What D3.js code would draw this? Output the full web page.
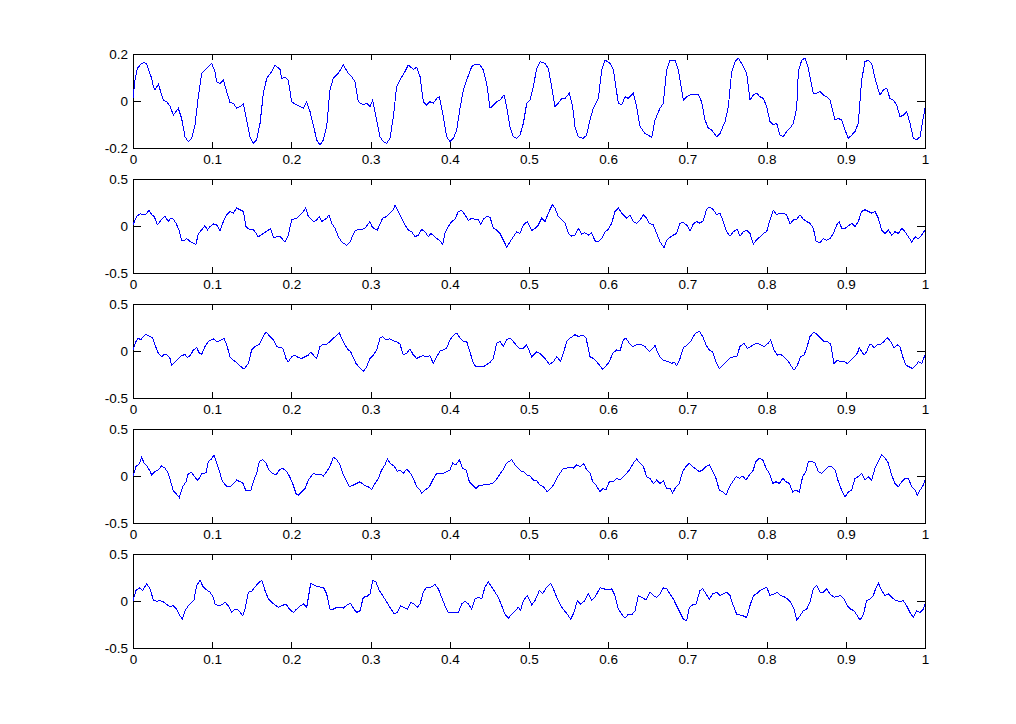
<!DOCTYPE html>
<html>
<head>
<meta charset="utf-8">
<script src="https://d3js.org/d3.v7.min.js"></script>
<style>
body { margin:0; background:#ffffff; }
svg text { font-family: "Liberation Sans", Arial, sans-serif; font-size:13.5px; fill:#000000; }
.frame { fill:none; stroke:#000000; stroke-width:1px; shape-rendering:crispEdges; }
.tick line { stroke:#000000; shape-rendering:crispEdges; }
.signal { fill:none; stroke:#0000ff; stroke-width:1px; shape-rendering:crispEdges; }
</style>
</head>
<body>
<svg id="fig" width="1016" height="724"></svg>
<script>
// signal 1 (top panel, y range +-0.2)
var t1 = [0,0.0025,0.0055,0.011,0.0143,0.0173,0.0206,0.0236,0.0257,0.0278,0.032,0.0349,0.0383,0.0425,0.0467,0.0509,0.0572,0.0614,0.0657,0.0699,0.0741,0.0783,0.0825,0.0867,0.093,0.0993,0.1035,0.1056,0.1098,0.1141,0.1183,0.1225,0.1267,0.1309,0.1351,0.1393,0.1435,0.1477,0.1519,0.1561,0.1604,0.1646,0.1688,0.1751,0.1793,0.1856,0.1877,0.1919,0.1961,0.2003,0.2066,0.2109,0.2151,0.2193,0.2235,0.2277,0.2319,0.2361,0.2403,0.2445,0.2487,0.2529,0.2593,0.2656,0.2719,0.2761,0.2803,0.2845,0.2908,0.295,0.2992,0.3026,0.3077,0.3119,0.3161,0.3203,0.3245,0.3287,0.3329,0.3371,0.3434,0.3476,0.354,0.3582,0.3624,0.3666,0.3708,0.375,0.3792,0.3834,0.3868,0.3918,0.396,0.4003,0.4045,0.4087,0.4129,0.4171,0.4213,0.4276,0.4318,0.4381,0.4423,0.4466,0.4508,0.455,0.4592,0.4634,0.4684,0.4718,0.476,0.4802,0.4844,0.4886,
  0.4929,0.4971,0.5013,0.5055,0.5097,0.5139,0.5202,0.5244,0.5286,0.5328,0.537,0.5413,0.5455,0.551,0.5551,0.5581,0.5623,0.5686,0.5728,0.577,0.5812,0.5876,0.5918,0.596,0.6023,0.6065,0.6128,0.617,0.6212,0.6254,0.6317,0.6359,0.6402,0.6465,0.6507,0.6549,0.6591,0.6654,0.6696,0.6738,0.678,0.6843,0.6886,0.6949,0.6991,0.7033,0.7075,0.7138,0.718,0.7222,0.7264,0.7306,0.737,0.7412,0.7475,0.7517,0.7559,0.7601,0.7643,0.7685,0.7749,0.7791,0.7833,0.7875,0.7917,0.7959,0.8001,0.8043,0.8085,0.8127,0.8169,0.8211,0.8253,0.8296,0.8338,0.838,0.8401,0.8443,0.8485,0.8527,0.859,0.8632,0.8674,0.8716,0.8758,0.88,0.8864,0.8906,0.8948,0.899,0.9032,0.9074,0.9116,0.9158,0.92,0.9242,0.9285,0.9327,0.9369,0.9411,0.9432,0.9474,0.9516,0.9558,0.96,0.9642,0.9684,0.9726,0.9769,0.9811,0.9853,0.9895,0.9937,0.9966,1];
var v1 = [0.011,0.089,0.139,0.160,0.163,0.157,0.125,0.096,0.061,0.047,0.072,0.040,0.004,-0.003,-0.021,-0.060,-0.031,-0.074,-0.152,-0.173,-0.159,-0.102,0.018,0.118,0.139,0.160,0.125,0.082,0.075,0.089,0.040,-0.007,-0.010,-0.031,-0.024,-0.013,-0.081,-0.152,-0.180,-0.166,-0.095,0.033,0.096,0.125,0.153,0.135,0.096,0.101,0.087,-0.003,-0.017,-0.024,-0.031,-0.003,-0.045,-0.102,-0.166,-0.187,-0.166,-0.109,0.047,0.096,0.118,0.153,0.118,0.104,0.082,-0.003,-0.017,-0.010,-0.024,0.004,-0.081,-0.152,-0.173,-0.180,-0.159,-0.067,0.061,0.089,0.125,0.153,0.135,0.143,0.104,-0.003,-0.017,-0.003,-0.010,0.011,0.018,-0.067,-0.152,-0.173,-0.159,-0.123,-0.031,0.047,0.089,0.146,0.157,0.153,0.132,0.075,-0.031,-0.017,-0.003,0.004,0.026,-0.024,-0.109,-0.152,-0.159,-0.145,
  -0.095,-0.010,0.004,0.061,0.139,0.167,0.160,0.139,0.061,-0.024,-0.010,0.011,0.011,0.033,-0.024,-0.109,-0.152,-0.159,-0.145,-0.081,-0.031,0.011,0.132,0.174,0.160,0.132,-0.010,-0.017,0.018,0.011,0.033,-0.024,-0.109,-0.138,-0.145,-0.156,-0.081,-0.031,-0.010,0.132,0.174,0.174,0.132,0.004,0.018,0.026,0.026,0.026,-0.003,-0.081,-0.116,-0.123,-0.152,-0.138,-0.088,-0.024,0.125,0.167,0.182,0.160,0.118,0.004,0.026,0.033,0.018,0.011,-0.024,-0.088,-0.102,-0.095,-0.145,-0.152,-0.130,-0.116,-0.095,-0.031,0.125,0.174,0.182,0.139,0.033,0.033,0.040,0.026,0.018,0.004,-0.081,-0.074,-0.081,-0.123,-0.159,-0.145,-0.130,-0.095,0.089,0.167,0.174,0.160,0.096,0.047,0.026,0.047,0.054,0.011,0.004,-0.017,-0.067,-0.060,-0.045,-0.095,-0.159,-0.166,-0.152,-0.095,-0.031];

// signal 2
var t2 = [0,0.0046,0.0088,0.013,0.0173,0.0202,0.0236,0.0269,0.0307,0.0341,0.0375,0.0404,0.0446,0.0476,0.0509,0.0543,0.0581,0.0614,0.0644,0.0678,0.0711,0.0753,0.0795,0.0825,0.0867,0.0909,0.0939,0.0972,0.1014,0.1056,0.1098,0.1141,0.1183,0.1225,0.1267,0.1309,0.1351,0.1393,0.1427,0.1477,0.1519,0.1549,0.1582,0.1646,0.1709,0.1738,0.1772,0.1814,0.1856,0.1898,0.1919,0.1961,0.2003,0.2066,0.2109,0.2151,0.218,0.2214,0.2277,0.2311,0.2353,0.2382,0.2412,0.2445,0.2475,0.2508,0.2551,0.2593,0.2635,0.2698,0.274,0.2803,0.2845,0.2887,0.2929,0.2971,0.2992,0.3013,0.3043,0.3085,0.3152,0.3203,0.3245,0.3287,0.3308,0.335,0.3392,0.3434,0.3476,0.3519,0.3561,0.3603,0.3645,0.3687,0.3729,0.3758,0.3792,0.3834,0.3876,0.391,0.3939,0.3981,0.4024,0.4066,0.4108,0.415,0.4192,0.4234,0.4276,0.4318,0.436,0.439,0.4423,0.4466,0.4508,0.455,0.4592,0.4634,0.4676,0.4718,0.476,0.4802,0.4844,0.4886,
  0.4929,0.4979,0.5034,0.5076,0.5118,0.516,0.5202,0.5244,0.5295,0.5328,0.537,0.5413,0.5455,0.5497,0.5539,0.5581,0.5623,0.5665,0.5707,0.5749,0.5791,0.5833,0.5875,0.5918,0.596,0.6002,0.6044,0.6086,0.6128,0.617,0.6233,0.6275,0.6317,0.6359,0.6402,0.6444,0.6486,0.6519,0.657,0.6612,0.6654,0.6705,0.6738,0.678,0.6822,0.6864,0.6907,0.6949,0.6991,0.7033,0.7075,0.7117,0.7159,0.7201,0.7243,0.7285,0.7328,0.737,0.7412,0.7454,0.7496,0.7538,0.758,0.7631,0.7664,0.7706,0.7748,0.779,0.7833,0.7875,0.7917,0.7959,0.8001,0.8035,0.8085,0.8127,0.8169,0.8211,0.8253,0.8296,0.8338,0.838,0.8422,0.8464,0.8506,0.8548,0.859,0.8624,0.8674,0.8716,0.8758,0.88,0.8843,0.8885,0.8918,0.8948,0.899,0.9032,0.9074,0.9116,0.9158,0.92,0.9242,0.9285,0.9327,0.9369,0.9411,0.9453,0.9495,0.9537,0.9579,0.9621,0.9664,0.9706,0.9748,0.979,0.9832,0.9874,0.9916,0.9958,1];
var v2 = [0.011,0.101,0.130,0.119,0.130,0.173,0.119,0.101,0.011,0.047,0.083,0.101,0.047,0.083,0.072,0.029,-0.043,-0.151,-0.158,-0.133,-0.158,-0.180,-0.194,-0.079,-0.043,0.004,-0.043,-0.007,0.022,0.011,-0.050,0.047,0.119,0.155,0.137,0.191,0.173,0.155,-0.007,-0.043,-0.036,-0.072,-0.115,-0.079,-0.043,-0.025,-0.122,-0.115,-0.108,-0.151,-0.169,-0.097,0.065,0.083,0.119,0.155,0.191,0.101,0.047,0.058,0.101,0.047,0.065,0.083,0.119,0.029,-0.025,-0.115,-0.169,-0.205,-0.169,-0.050,-0.036,-0.036,-0.025,0.022,0.047,0.000,-0.025,-0.043,0.083,0.101,0.137,0.173,0.227,0.155,0.083,0.011,-0.043,-0.061,-0.115,-0.097,-0.036,-0.061,-0.115,-0.079,-0.097,-0.133,-0.158,-0.194,-0.079,-0.007,0.047,0.072,0.155,0.166,0.119,0.058,0.083,0.072,0.065,0.018,0.072,0.101,0.094,-0.025,-0.043,-0.079,-0.151,-0.223,-0.169,-0.115,-0.061,-0.079,
  0.011,0.047,-0.050,-0.025,0.011,0.083,0.047,0.137,0.227,0.191,0.101,0.065,0.029,-0.079,-0.108,-0.097,-0.025,-0.086,-0.072,-0.097,-0.072,-0.158,-0.169,-0.133,-0.061,-0.036,0.029,0.155,0.191,0.137,0.083,0.119,0.047,0.029,0.065,0.119,0.083,0.029,0.011,-0.079,-0.169,-0.230,-0.151,-0.122,-0.097,-0.079,0.029,0.036,0.011,-0.050,0.022,0.047,0.029,0.058,0.180,0.202,0.173,0.119,0.137,0.047,-0.061,-0.108,-0.061,-0.036,-0.108,-0.061,-0.043,-0.079,-0.194,-0.144,-0.115,-0.079,-0.061,0.047,0.166,0.119,0.137,0.137,0.119,0.022,0.065,0.072,0.119,0.072,0.047,0.029,-0.025,-0.158,-0.180,-0.133,-0.151,-0.133,-0.079,0.011,0.047,-0.025,-0.025,0.000,0.029,-0.007,0.047,0.155,0.173,0.155,0.137,0.155,0.083,-0.043,-0.079,-0.043,-0.097,-0.061,-0.079,-0.025,-0.061,-0.115,-0.169,-0.115,-0.133,-0.097,-0.043];

// signal 3
var t3 = [0,0.0038,0.0067,0.0097,0.0122,0.0164,0.0206,0.0248,0.0278,0.032,0.0362,0.0391,0.0425,0.0467,0.0488,0.053,0.0572,0.0614,0.0657,0.0686,0.0728,0.0762,0.0804,0.0838,0.0867,0.0909,0.0951,0.1014,0.1056,0.1098,0.1149,0.1183,0.1225,0.1267,0.1309,0.1351,0.1402,0.1456,0.1498,0.154,0.1595,0.1646,0.1679,0.173,0.1772,0.1814,0.1856,0.189,0.1932,0.1961,0.2003,0.2045,0.2088,0.213,0.2172,0.2214,0.2243,0.2277,0.2319,0.2361,0.2403,0.2445,0.2487,0.2529,0.2572,0.2605,0.2635,0.2677,0.2719,0.2748,0.2782,0.2816,0.2866,0.2908,0.295,0.2992,0.3035,0.3077,0.3119,0.3152,0.3194,0.3237,0.3287,0.3329,0.3371,0.3413,0.3455,0.3497,0.354,0.3582,0.3624,0.3666,0.3708,0.375,0.3792,0.3834,0.3876,0.3918,0.396,0.4003,0.4045,0.4087,0.4129,0.4171,0.4213,0.4255,0.4289,0.4331,0.4381,0.4423,0.4466,0.4508,0.455,0.4592,0.4634,0.4676,0.4718,0.476,0.4802,0.4844,0.4886,
  0.4929,0.4971,0.5034,0.5097,0.5139,0.5202,0.5257,0.5307,0.5349,0.54,0.5434,0.5476,0.5518,0.5581,0.5623,0.5686,0.572,0.5749,0.577,0.5812,0.5854,0.5897,0.593,0.5972,0.6014,0.6056,0.6107,0.6149,0.6191,0.6225,0.6267,0.6309,0.6359,0.6423,0.6465,0.652,0.6562,0.6591,0.6621,0.6654,0.6696,0.676,0.6802,0.6831,0.6865,0.6907,0.6949,0.6999,0.7041,0.7075,0.7109,0.7151,0.7193,0.7235,0.7277,0.7319,0.7361,0.7403,0.7446,0.7488,0.753,0.758,0.7622,0.7664,0.7715,0.7757,0.7799,0.7841,0.7883,0.7925,0.7967,0.8022,0.8051,0.8094,0.8136,0.8178,0.822,0.8262,0.8304,0.8346,0.8388,0.843,0.8472,0.8506,0.8548,0.8599,0.8641,0.8683,0.8725,0.8767,0.8809,0.8851,0.8893,0.8935,0.8977,0.9019,0.9062,0.9104,0.9146,0.9171,0.92,0.923,0.9264,0.9297,0.9327,0.9356,0.9398,0.944,0.9482,0.9524,0.9566,0.9609,0.9651,0.9684,0.9718,0.976,0.9802,0.9844,0.9886,0.9916,0.9958,1];
var v3 = [0.011,0.101,0.137,0.119,0.144,0.180,0.155,0.144,0.065,-0.025,-0.061,-0.036,-0.036,-0.079,-0.151,-0.115,-0.079,-0.050,-0.036,-0.072,-0.043,0.011,0.036,-0.025,-0.036,0.047,0.101,0.130,0.101,0.108,0.137,0.065,-0.061,-0.097,-0.122,-0.158,-0.194,-0.133,0.011,0.047,0.072,0.155,0.202,0.155,0.119,0.047,0.036,0.029,-0.079,-0.115,-0.061,-0.043,-0.072,-0.079,-0.061,-0.043,-0.014,-0.043,-0.079,0.047,0.072,0.072,0.101,0.137,0.166,0.191,0.137,0.065,0.011,-0.007,-0.072,-0.133,-0.180,-0.216,-0.169,-0.079,-0.043,0.011,0.137,0.155,0.119,0.130,0.108,0.101,0.072,-0.043,-0.025,0.022,-0.043,-0.079,-0.061,-0.050,-0.061,-0.050,-0.133,-0.061,0.000,0.011,0.029,0.119,0.166,0.191,0.137,0.101,0.101,-0.007,-0.115,-0.169,-0.162,-0.169,-0.144,-0.122,-0.079,0.083,0.101,0.047,0.119,0.137,0.101,0.058,0.022,
  0.029,0.065,-0.061,-0.007,-0.025,-0.079,-0.144,-0.115,-0.061,-0.108,-0.025,0.101,0.137,0.173,0.155,0.166,0.137,0.029,-0.061,-0.079,-0.115,-0.158,-0.194,-0.158,-0.115,-0.025,0.011,0.000,0.119,0.137,0.083,0.047,0.065,0.065,0.047,-0.007,0.029,0.058,-0.007,-0.061,-0.097,-0.115,-0.133,-0.115,-0.158,-0.079,0.036,0.065,0.101,0.155,0.191,0.209,0.155,0.065,0.011,-0.007,-0.115,-0.187,-0.151,-0.115,-0.079,-0.061,-0.061,0.047,0.083,0.029,0.047,0.072,0.083,0.065,0.047,0.083,0.119,0.011,-0.043,-0.036,-0.061,-0.097,-0.151,-0.205,-0.151,-0.061,-0.043,0.029,0.155,0.202,0.173,0.137,0.101,0.101,0.072,-0.133,-0.097,-0.115,-0.108,-0.133,-0.097,-0.061,-0.025,0.036,-0.007,-0.043,-0.007,0.065,0.065,0.036,0.065,0.072,0.101,0.144,0.101,0.029,0.065,0.047,-0.061,-0.151,-0.169,-0.187,-0.151,-0.115,-0.133,-0.043];

// signal 4
var t4 = [0,0.0038,0.0067,0.0088,0.0109,0.0139,0.0173,0.0206,0.0236,0.0278,0.032,0.0362,0.0404,0.0446,0.0476,0.0509,0.0551,0.0585,0.0627,0.0669,0.0699,0.0741,0.077,0.0812,0.0838,0.0867,0.0922,0.0951,0.0993,0.1023,0.1056,0.1098,0.1132,0.1183,0.1225,0.1267,0.1309,0.1351,0.1385,0.1427,0.1486,0.1519,0.1561,0.1595,0.1637,0.1679,0.1721,0.1763,0.1806,0.1848,0.189,0.194,0.1974,0.2016,0.2058,0.2088,0.213,0.2172,0.2214,0.2277,0.2319,0.2361,0.2403,0.2445,0.2487,0.2529,0.2572,0.2614,0.2656,0.2698,0.2731,0.2782,0.2824,0.2866,0.2917,0.2971,0.3013,0.3056,0.3098,0.314,0.3182,0.3211,0.3253,0.3295,0.3338,0.3371,0.3413,0.3455,0.3497,0.354,0.3582,0.3624,0.3645,0.3687,0.3742,0.3784,0.3834,0.3876,0.3918,0.396,0.4003,0.4036,0.4078,0.412,0.4162,0.4205,0.4247,0.4289,0.4331,0.4373,0.4415,0.4457,0.4499,0.4541,0.4583,0.4625,0.4676,0.4718,0.4781,0.4823,0.4865,0.4907,
  0.4929,0.4971,0.5013,0.5055,0.5097,0.5139,0.5181,0.5232,0.5274,0.5307,0.5349,0.5391,0.5434,0.5476,0.5518,0.556,0.5602,0.5644,0.5694,0.5728,0.577,0.5804,0.5846,0.5897,0.593,0.5972,0.6014,0.6065,0.6107,0.6149,0.6191,0.6233,0.6275,0.6317,0.6359,0.6402,0.6444,0.6486,0.6528,0.657,0.6612,0.6654,0.6696,0.6738,0.678,0.6814,0.6856,0.6898,0.694,0.6982,0.7024,0.7066,0.7109,0.7151,0.7193,0.7235,0.7277,0.7319,0.7361,0.7403,0.7446,0.7488,0.753,0.7572,0.7614,0.7656,0.7698,0.774,0.7782,0.7824,0.7866,0.7908,0.7951,0.7993,0.8035,0.8077,0.8119,0.8161,0.8203,0.8245,0.8287,0.8329,0.8371,0.8413,0.8455,0.8497,0.8527,0.8569,0.8611,0.8653,0.8695,0.8737,0.8779,0.8822,0.8864,0.8906,0.8948,0.899,0.9032,0.9074,0.9116,0.9158,0.92,0.9242,0.9285,0.9327,0.9369,0.9411,0.9453,0.9495,0.9537,0.9579,0.9621,0.9663,0.9706,0.9748,0.979,0.9832,0.9874,0.9903,0.9937,0.9979,1];
var v4 = [0.000,0.101,0.119,0.144,0.202,0.137,0.108,0.065,0.011,0.047,0.065,0.108,0.083,0.029,-0.061,-0.158,-0.194,-0.230,-0.115,-0.061,0.029,0.036,0.000,-0.043,-0.025,0.022,0.036,0.155,0.180,0.227,0.137,0.029,-0.061,-0.108,-0.115,-0.079,-0.043,-0.061,-0.072,-0.158,-0.158,-0.061,0.029,0.155,0.173,0.137,0.058,0.029,0.011,0.065,0.083,0.047,0.000,-0.079,-0.187,-0.205,-0.169,-0.133,-0.043,0.029,0.011,0.022,0.000,0.047,0.101,0.202,0.173,0.119,0.011,-0.061,-0.115,-0.097,-0.079,-0.061,-0.097,-0.115,-0.144,-0.079,-0.025,0.065,0.119,0.180,0.130,0.108,0.047,0.065,0.029,0.072,0.036,-0.025,-0.115,-0.151,-0.187,-0.151,-0.115,-0.043,0.029,0.029,0.029,0.047,0.065,0.137,0.119,0.173,0.083,0.065,-0.061,-0.097,-0.133,-0.097,-0.097,-0.086,-0.086,-0.079,-0.043,0.011,0.072,0.137,0.173,0.119,0.083,0.047,
  0.047,0.011,0.000,-0.043,-0.050,-0.097,-0.115,-0.169,-0.133,-0.097,-0.025,0.029,0.083,0.083,0.094,0.083,0.119,0.101,0.130,0.065,0.036,-0.061,-0.097,-0.169,-0.133,-0.144,-0.061,-0.061,-0.025,-0.043,-0.007,0.029,0.072,0.137,0.180,0.137,0.101,-0.007,-0.025,-0.079,-0.043,-0.079,-0.050,-0.133,-0.133,-0.180,-0.115,-0.079,0.047,0.101,0.137,0.101,0.072,0.047,0.065,0.101,0.119,0.047,-0.025,-0.151,-0.169,-0.205,-0.115,-0.061,-0.007,-0.025,0.000,-0.043,0.011,0.047,0.155,0.191,0.173,0.083,0.029,-0.079,-0.061,-0.079,-0.025,-0.061,-0.079,-0.169,-0.151,-0.169,-0.007,0.047,0.155,0.155,0.137,0.047,0.029,0.065,0.101,0.101,0.065,-0.061,-0.151,-0.223,-0.169,-0.151,-0.025,-0.007,0.029,-0.043,-0.007,-0.043,0.083,0.155,0.227,0.191,0.137,0.011,-0.079,-0.115,-0.061,-0.025,-0.025,-0.115,-0.151,-0.205,-0.151,-0.097,-0.043];

// signal 5
var t5 = [0,0.0038,0.008,0.0122,0.0173,0.0215,0.0257,0.0299,0.0341,0.0375,0.0417,0.0467,0.0509,0.0551,0.0593,0.0623,0.0657,0.0699,0.0741,0.077,0.0804,0.0846,0.0888,0.093,0.0972,0.1014,0.1035,0.1077,0.112,0.1162,0.1204,0.1246,0.1288,0.133,0.1385,0.1414,0.1456,0.1498,0.154,0.1582,0.1625,0.1667,0.1709,0.1751,0.1793,0.1835,0.1877,0.1932,0.1974,0.2024,0.2066,0.2117,0.2151,0.2193,0.2243,0.2277,0.2319,0.2361,0.2403,0.2445,0.2487,0.2529,0.2572,0.2614,0.2656,0.2706,0.2748,0.279,0.2824,0.2866,0.2908,0.295,0.2992,0.3026,0.3068,0.311,0.3152,0.3194,0.3245,0.3295,0.3338,0.338,0.3422,0.3464,0.3506,0.3548,0.359,0.3624,0.3666,0.3708,0.375,0.3813,0.3855,0.3897,0.3939,0.3981,0.4024,0.4066,0.4108,0.415,0.4192,0.4234,0.4276,0.4318,0.436,0.4402,0.4444,0.4487,0.4529,0.4571,0.4613,0.4655,0.4697,0.4739,0.4781,0.4823,0.4865,0.4895,
  0.4929,0.4979,0.5034,0.5076,0.5131,0.5173,0.5223,0.5274,0.5316,0.5358,0.54,0.5442,0.5484,0.5526,0.5568,0.561,0.5652,0.5695,0.5749,0.5791,0.5833,0.5897,0.5939,0.6002,0.6044,0.6086,0.6128,0.617,0.6212,0.6254,0.6296,0.6339,0.6381,0.6423,0.6477,0.6528,0.657,0.6612,0.6654,0.6696,0.6738,0.678,0.6822,0.6864,0.6907,0.6949,0.6991,0.7024,0.7067,0.7109,0.7159,0.7193,0.7235,0.7277,0.7319,0.737,0.7412,0.7454,0.7496,0.7538,0.758,0.7622,0.7664,0.7706,0.7748,0.779,0.7833,0.7875,0.7917,0.7959,0.8001,0.8043,0.8094,0.8136,0.8178,0.822,0.8262,0.8304,0.8346,0.838,0.8422,0.8464,0.8506,0.8548,0.859,0.8632,0.8674,0.8716,0.8758,0.88,0.8851,0.8893,0.8935,0.8977,0.9019,0.9062,0.9104,0.9146,0.918,0.9222,0.9264,0.9306,0.9348,0.9369,0.9411,0.9453,0.9495,0.9537,0.9579,0.9634,0.9684,0.9726,0.9768,0.9811,0.9853,0.9895,0.9937,0.9979,1];
var v5 = [0.000,0.112,0.140,0.112,0.184,0.130,0.011,-0.004,0.004,-0.004,-0.032,-0.061,-0.050,-0.086,-0.158,-0.194,-0.104,-0.050,-0.014,0.011,0.166,0.220,0.148,0.119,0.094,0.040,-0.032,-0.050,-0.040,-0.014,-0.050,-0.122,-0.086,-0.097,-0.158,-0.086,0.094,0.104,0.148,0.191,0.220,0.112,0.022,-0.014,-0.040,-0.068,-0.050,-0.032,-0.086,-0.122,-0.086,-0.050,-0.032,-0.068,0.184,0.176,0.155,0.148,0.148,0.076,-0.086,-0.086,-0.068,-0.068,-0.076,-0.040,-0.025,-0.086,-0.122,-0.104,0.040,0.047,0.076,0.220,0.202,0.112,0.058,0.004,-0.068,-0.133,-0.122,-0.050,-0.068,-0.086,-0.014,-0.032,-0.068,-0.032,0.094,0.148,0.140,0.176,0.130,0.040,-0.050,-0.122,-0.122,-0.122,-0.122,-0.032,-0.004,-0.032,-0.086,0.022,0.040,0.022,0.148,0.202,0.148,0.094,0.040,-0.050,-0.140,-0.184,-0.140,-0.104,-0.068,-0.097,
  0.004,0.058,-0.040,0.004,0.112,0.076,0.148,0.191,0.112,0.022,-0.050,-0.097,-0.140,-0.194,-0.122,0.004,-0.032,-0.004,0.076,0.011,0.040,0.140,0.130,0.119,0.130,0.058,-0.086,-0.140,-0.184,-0.140,-0.148,-0.104,0.058,0.040,0.011,0.094,0.058,0.040,0.076,0.140,0.130,0.076,0.022,-0.050,-0.122,-0.194,-0.212,-0.068,-0.040,-0.032,0.112,0.130,0.076,0.022,0.076,0.094,0.058,0.076,0.094,0.058,-0.050,-0.140,-0.148,-0.158,-0.176,-0.050,0.058,0.076,0.112,0.130,0.148,0.058,0.076,0.094,0.058,0.047,0.022,-0.014,-0.086,-0.205,-0.158,-0.104,-0.086,-0.014,0.130,0.166,0.094,0.094,0.130,0.076,0.040,0.047,0.058,0.022,-0.050,-0.086,-0.104,-0.158,-0.205,-0.140,0.004,0.022,0.058,0.112,0.191,0.112,0.058,0.076,0.040,0.004,-0.004,0.004,-0.050,-0.122,-0.176,-0.104,-0.122,-0.086,-0.032];

var xTicks = [0,0.1,0.2,0.3,0.4,0.5,0.6,0.7,0.8,0.9,1];
var xTickLabels = ["0","0.1","0.2","0.3","0.4","0.5","0.6","0.7","0.8","0.9","1"];
var yLimits = [[-0.2,0.2],[-0.5,0.5],[-0.5,0.5],[-0.5,0.5],[-0.5,0.5]];
var yTickLabels = [["-0.2","0","0.2"],["-0.5","0","0.5"],["-0.5","0","0.5"],["-0.5","0","0.5"],["-0.5","0","0.5"]];

var panels = [[t1,v1],[t2,v2],[t3,v3],[t4,v4],[t5,v5]];

var svg = d3.select("#fig");
var left = 133, right = 925, panelH = 94;
var tops = [54,179,304,429,554];

var xScale = d3.scaleLinear().domain([0,1]).range([left,right]);

panels.forEach(function (p, i) {
	var top = tops[i], bottom = top + panelH;
	var lim = yLimits[i];
	var yScale = d3.scaleLinear().domain(lim).range([bottom, top]);
	var yTicks = [lim[0], 0, lim[1]];
	var g = svg.append("g").attr("class", "panel");

	g.append("rect").attr("class","frame")
		.attr("x", left).attr("y", top).attr("width", right-left).attr("height", panelH);

	var xb = d3.axisBottom(xScale).tickValues(xTicks).tickSize(-6).tickSizeOuter(0).tickPadding(6)
		.tickFormat(function (d,j) { return xTickLabels[j]; });
	var xt = d3.axisTop(xScale).tickValues(xTicks).tickSize(-6).tickSizeOuter(0).tickFormat("");
	var yl = d3.axisLeft(yScale).tickValues(yTicks).tickSize(-8).tickSizeOuter(0).tickPadding(5)
		.tickFormat(function (d,j) { return yTickLabels[i][j]; });
	var yr = d3.axisRight(yScale).tickValues(yTicks).tickSize(-8).tickSizeOuter(0).tickFormat("");

	g.append("g").attr("transform","translate(0,"+bottom+")").call(xb);
	g.append("g").attr("transform","translate(0,"+top+")").call(xt);
	g.append("g").attr("transform","translate("+left+",0)").call(yl);
	g.append("g").attr("transform","translate("+right+",0)").call(yr);
	g.selectAll(".domain").remove();
	g.selectAll(".tick text").attr("font-family", null).attr("font-size", null);

	// the signal trace
	var line = d3.line().x(function (d) { return xScale(d[0]); }).y(function (d) { return yScale(d[1]); });
	var pts = p[0].map(function (t, k) { return [t, p[1][k]]; });
	g.append("path").attr("class","signal").attr("d", line(pts));
});
</script>
</body>
</html>
